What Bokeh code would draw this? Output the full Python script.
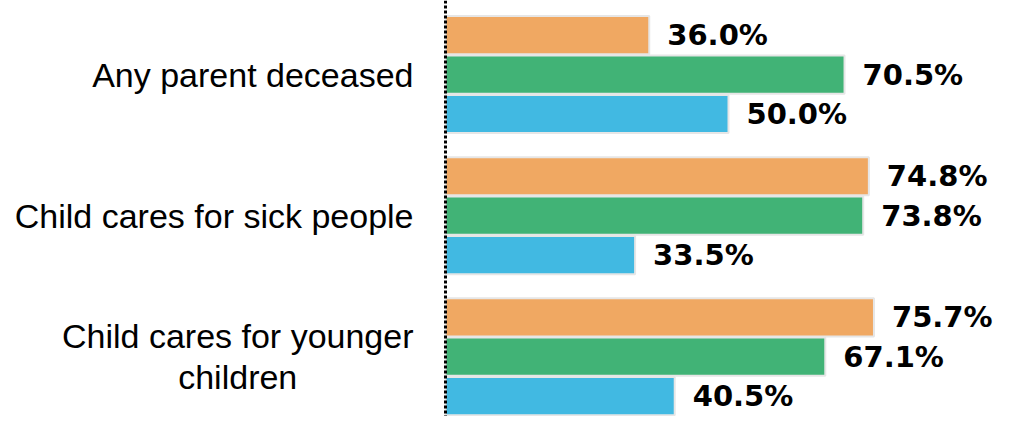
from bokeh.plotting import figure
from bokeh.models import ColumnDataSource, Range1d, Span
from bokeh.core.properties import value
from bokeh.embed import file_html
from bokeh.resources import INLINE

categories = ["Any parent deceased", "Child cares for sick people", "Child cares for younger\nchildren"]
series = ["Series A", "Series B", "Series C"]
series_a = [36.0, 74.8, 75.7]
series_b = [70.5, 73.8, 67.1]
series_c = [50.0, 33.5, 40.5]
colors = ["#F0A862", "#41B376", "#41B9E2"]

# layout (not data): slot index of each bar, with a gap between category groups
GROUP_GAP = 0.58
n_series = len(series)
values_by_series = [series_a, series_b, series_c]
ys, vals, cols, labels = [], [], [], []
cat_y = []
for ci, cat in enumerate(categories):
    base = ci * (n_series + GROUP_GAP)
    cat_y.append(base + (n_series - 1) / 2)
    for si in range(n_series):
        v = values_by_series[si][ci]
        ys.append(base + si)
        vals.append(v)
        cols.append(colors[si])
        labels.append(f"{v:.1f}%")

src = ColumnDataSource(dict(y=ys, value=vals, color=cols, label=labels))
cat_src = ColumnDataSource(dict(y=cat_y, x=[0] * len(categories), text=categories))

W, H = 994, 416
zero_px, px_per_unit = 445, 5.66
x_range = Range1d(-zero_px / px_per_unit, (W - zero_px) / px_per_unit)
top_px, slot_px = 15, 39.4
y_top = -0.5 - top_px / slot_px
y_range = Range1d(start=y_top + H / slot_px, end=y_top)   # inverted: first slot at top

p = figure(width=W, height=H, x_range=x_range, y_range=y_range,
           output_backend="svg", toolbar_location=None, min_border=0)
p.axis.visible = False
p.grid.visible = False
p.outline_line_color = None
p.background_fill_color = "white"
p.border_fill_color = "white"

p.hbar(y="y", left=0, right="value", height=0.97, fill_color="color",
       line_color="#E6E6E6", line_width=2, source=src)

p.text(x="value", y="y", text="label", x_offset=18, source=src,
       text_font=value("DejaVu Sans"), text_font_style="bold", text_font_size="29px",
       text_color="black", text_align="left", text_baseline="middle")

p.text(x="x", y="y", text="text", x_offset=-32, source=cat_src,
       text_font=value("Liberation Sans"), text_font_size="34px", text_color="black",
       text_align="center", anchor="center_right", text_line_height=1.08)

span = Span(location=0, dimension="height", line_color="black", line_width=3,
            line_dash="3 2", level="overlay")
p.add_layout(span)

open("out.html", "w").write(file_html(p, INLINE))
